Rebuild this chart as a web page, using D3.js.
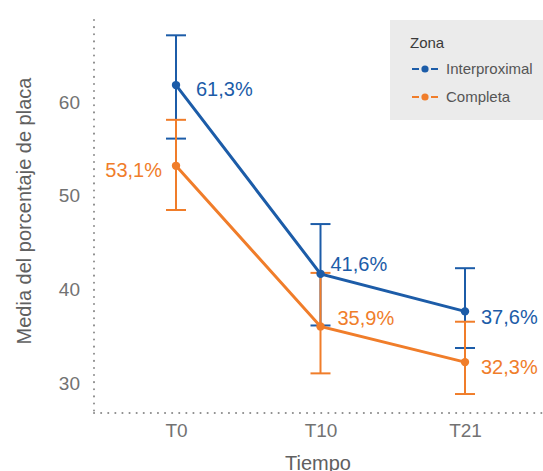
<!DOCTYPE html>
<html>
<head>
<meta charset="utf-8">
<script src="https://cdn.jsdelivr.net/npm/d3@7"></script>
<style>
    body { margin: 0; background: #fff; }
    svg { display: block; font-family: "Liberation Sans", Arial, sans-serif; }
</style>
</head>
<body>
<svg id="chart"></svg>
<script>
"use strict";

// Chart size
const width = 543;
const height = 471;

// Data
const tiempos = ["T0", "T10", "T21"];
const zonas = ["Interproximal", "Completa"];
const mediaInterproximal = [61.8, 41.7, 37.7];
const mediaCompleta = [53.2, 36.1, 32.3];
const superiorInterproximal = [67.1, 47.0, 42.3];
const inferiorInterproximal = [56.1, 36.2, 33.8];
const superiorCompleta = [58.1, 41.8, 36.6];
const inferiorCompleta = [48.5, 31.1, 28.9];
const etiquetasInterproximal = ["61,3%", "41,6%", "37,6%"];
const etiquetasCompleta = ["53,1%", "35,9%", "32,3%"];
const yTicks = [30, 40, 50, 60];

// Label nudges (px) for each point, like a repel layout
const nudgeInterproximal = [[20, 4, "start"], [10, -10, "start"], [16, 6, "start"]];
const nudgeCompleta = [[-14, 4, "end"], [17, -8, "start"], [16, 5, "start"]];

const colores = { Interproximal: "#1c5ca8", Completa: "#f07d2a" };

const series = [
    { zona: "Completa", media: mediaCompleta, sup: superiorCompleta, inf: inferiorCompleta, etiquetas: etiquetasCompleta, nudge: nudgeCompleta },
    { zona: "Interproximal", media: mediaInterproximal, sup: superiorInterproximal, inf: inferiorInterproximal, etiquetas: etiquetasInterproximal, nudge: nudgeInterproximal }
];

const plot = { left: 94, right: 543, top: 20, bottom: 413 };

const svg = d3.select("#chart")
    .attr("width", width)
    .attr("height", height);

// Scales
const xScale = d3.scalePoint()
    .domain(tiempos)
    .range([176, 465]);

const yScale = d3.scaleLinear()
    .domain([26.88, 68.73])
    .range([plot.bottom, plot.top]);

// Dotted axis lines
function dottedLine(x1, y1, x2, y2) {
    svg.append("line")
        .attr("x1", x1).attr("x2", x2)
        .attr("y1", y1).attr("y2", y2)
        .attr("stroke", "#8c8c8c")
        .attr("stroke-width", 2)
        .attr("stroke-linecap", "round")
        .attr("stroke-dasharray", "0.1,7");
}
dottedLine(plot.left, plot.top, plot.left, plot.bottom);
dottedLine(plot.left, plot.bottom, plot.right, plot.bottom);

// Axes
const yAxis = svg.append("g")
    .attr("transform", `translate(${plot.left},0)`)
    .call(d3.axisLeft(yScale).tickValues(yTicks).tickSize(0).tickPadding(14));

const xAxis = svg.append("g")
    .attr("transform", `translate(0,${plot.bottom})`)
    .call(d3.axisBottom(xScale).tickSize(0).tickPadding(11));

[yAxis, xAxis].forEach(ax => {
    ax.select(".domain").remove();
    ax.selectAll("text")
        .attr("fill", "#727272")
        .style("font-size", "19px")
        .style("font-family", "'Liberation Sans', Arial, sans-serif");
});

// Axis titles
svg.append("text")
    .attr("transform", `translate(31,211) rotate(-90)`)
    .attr("text-anchor", "middle")
    .attr("fill", "#606060")
    .style("font-size", "20px")
    .text("Media del porcentaje de placa");

svg.append("text")
    .attr("x", 318)
    .attr("y", 470)
    .attr("text-anchor", "middle")
    .attr("fill", "#606060")
    .style("font-size", "20px")
    .text("Tiempo");

// Error bars (Interproximal first, then Completa on top)
const capHalf = 10;
const barLayer = svg.append("g");
series.slice().reverse().forEach(s => {
    const g = barLayer.append("g")
        .attr("stroke", colores[s.zona])
        .attr("stroke-width", 2);
    tiempos.forEach((t, i) => {
        const x = xScale(t);
        g.append("line")
            .attr("x1", x).attr("x2", x)
            .attr("y1", yScale(s.sup[i])).attr("y2", yScale(s.inf[i]));
        [s.sup[i], s.inf[i]].forEach(v => {
            g.append("line")
                .attr("x1", x - capHalf).attr("x2", x + capHalf)
                .attr("y1", yScale(v)).attr("y2", yScale(v));
        });
    });
});

// Lines
const line = d3.line()
    .x((d, i) => xScale(tiempos[i]))
    .y(d => yScale(d));

series.forEach(s => {
    svg.append("path")
        .datum(s.media)
        .attr("d", line)
        .attr("fill", "none")
        .attr("stroke", colores[s.zona])
        .attr("stroke-width", 3);
});

// Points and labels
series.forEach(s => {
    svg.append("g")
        .selectAll("circle")
        .data(s.media)
        .join("circle")
        .attr("cx", (d, i) => xScale(tiempos[i]))
        .attr("cy", d => yScale(d))
        .attr("r", 4.2)
        .attr("fill", colores[s.zona]);

    svg.append("g")
        .selectAll("text")
        .data(s.media)
        .join("text")
        .attr("x", (d, i) => xScale(tiempos[i]) + s.nudge[i][0])
        .attr("y", (d, i) => yScale(d) + s.nudge[i][1])
        .attr("dy", "0.35em")
        .attr("text-anchor", (d, i) => s.nudge[i][2])
        .attr("fill", colores[s.zona])
        .style("font-size", "20px")
        .text((d, i) => s.etiquetas[i]);
});

// Legend
const legend = svg.append("g");
legend.append("rect")
    .attr("x", 390).attr("y", 20)
    .attr("width", 153).attr("height", 100)
    .attr("fill", "#ebebeb");

legend.append("text")
    .attr("x", 410).attr("y", 48)
    .attr("fill", "#3a3a3a")
    .style("font-size", "15px")
    .text("Zona");

zonas.forEach((z, i) => {
    const y = 69 + i * 28;
    legend.append("line")
        .attr("x1", 412).attr("x2", 438)
        .attr("y1", y).attr("y2", y)
        .attr("stroke", colores[z])
        .attr("stroke-width", 2.2)
        .attr("stroke-dasharray", "7,3,6,3,7");
    legend.append("circle")
        .attr("cx", 425).attr("cy", y)
        .attr("r", 3.6)
        .attr("fill", colores[z]);
    legend.append("text")
        .attr("x", 446).attr("y", y)
        .attr("dy", "0.35em")
        .attr("fill", "#555")
        .style("font-size", "15px")
        .text(z);
});
</script>
</body>
</html>
